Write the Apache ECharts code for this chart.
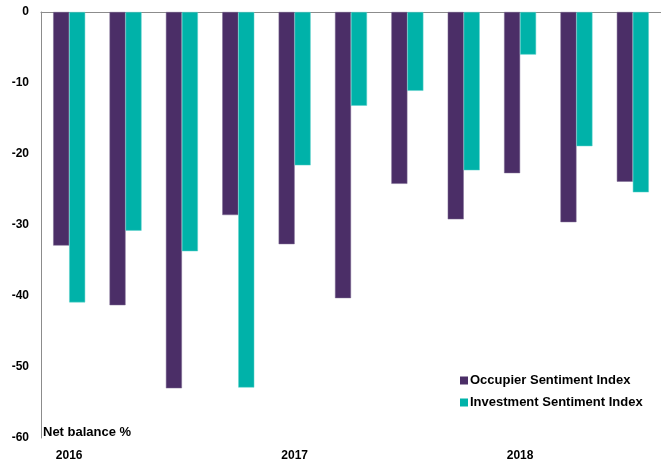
<!DOCTYPE html>
<html>
<head>
<meta charset="utf-8">
<script src="https://cdn.jsdelivr.net/npm/echarts@6/dist/echarts.min.js"></script>
<style>
html,body{margin:0;padding:0;background:#fff;}
#c{width:661px;height:467px;}
</style>
</head>
<body>
<div id="c"></div>
<script>
var categories = ['2016 Q1','2016 Q2','2016 Q3','2016 Q4','2017 Q1','2017 Q2','2017 Q3','2017 Q4','2018 Q1','2018 Q2','2018 Q3'];
var yearLabels = ['2016','','','','2017','','','','2018','',''];
var occupier = [-32.9, -41.3, -53.0, -28.6, -32.7, -40.3, -24.2, -29.2, -22.7, -29.6, -23.9];
var investment = [-40.9, -30.8, -33.7, -52.9, -21.6, -13.2, -11.1, -22.3, -6.0, -18.9, -25.4];
var seriesNames = ['Occupier Sentiment Index', 'Investment Sentiment Index'];
var yTicks = {min: -60, max: 0, interval: 10};

var font = '"Liberation Sans", Arial, sans-serif';
var chart = echarts.init(document.getElementById('c'));
chart.setOption({
  animation: false,
  grid: {left: 41, right: 0, top: 12, bottom: 29, containLabel: false},
  legend: {
    orient: 'vertical',
    left: 460, top: 374, padding: 0,
    itemWidth: 8, itemHeight: 8, itemGap: 9,
    icon: 'rect',
    itemStyle: {borderWidth: 0},
    textStyle: {fontFamily: font, fontWeight: 'bold', fontSize: 13, color: '#000', padding: [0,0,0,-3]},
    data: seriesNames
  },
  xAxis: [{
    type: 'category', data: categories, position: 'top',
    axisLine: {show: true, onZero: false, lineStyle: {color: '#8c8c8c', width: 1}},
    axisTick: {show: false}, axisLabel: {show: false}
  }, {
    type: 'category', data: categories, position: 'bottom',
    axisLine: {show: false, onZero: false}, axisTick: {show: false},
    axisLabel: {
      interval: 0, margin: 12,
      fontFamily: font, fontWeight: 'bold', fontSize: 12, color: '#000',
      formatter: function (v, i) { return yearLabels[i]; }
    }
  }],
  yAxis: {
    type: 'value', min: yTicks.min, max: yTicks.max, interval: yTicks.interval,
    axisLine: {show: true, lineStyle: {color: '#8c8c8c', width: 1}},
    axisTick: {show: false}, splitLine: {show: false},
    axisLabel: {margin: 12, fontFamily: font, fontWeight: 'bold', fontSize: 12, color: '#000'}
  },
  graphic: [{
    type: 'text', left: 43, top: 426,
    style: {text: 'Net balance %', font: 'bold 13px ' + font, fill: '#000'}
  }],
  series: [{
    name: seriesNames[0], type: 'bar', data: occupier, xAxisIndex: 0,
    barWidth: 16, barGap: '0%',
    itemStyle: {color: '#4b2e67', borderColor: '#7d6a92', borderWidth: 0.5}
  }, {
    name: seriesNames[1], type: 'bar', data: investment, xAxisIndex: 0,
    barWidth: 16,
    itemStyle: {color: '#00b2a9', borderColor: '#5fd3cc', borderWidth: 0.5}
  }]
});
</script>
</body>
</html>
